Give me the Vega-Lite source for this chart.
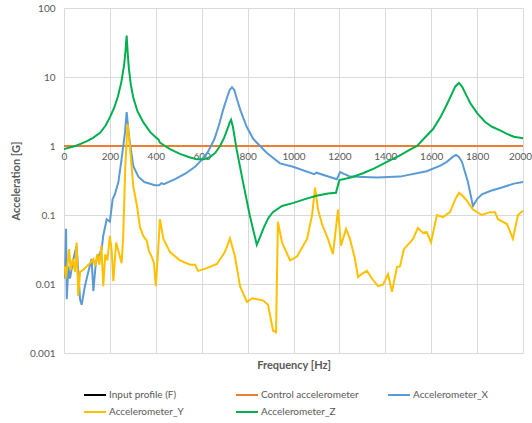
{
  "$schema": "https://vega.github.io/schema/vega-lite/v6.json",
  "width": 459,
  "height": 345,
  "autosize": "none",
  "padding": {"left": 64, "top": 8, "right": 9, "bottom": 70},
  "background": "white",
  "config": {
    "font": "Lato",
    "view": {"stroke": null},
    "axis": {"labelColor": "#595959", "titleColor": "#595959", "gridColor": "#d9d9d9", "gridWidth": 1, "domain": false, "ticks": false, "labelFontSize": 10}
  },
  "datasets": {
    "curves": [
      {"Series": "Input profile (F)", "Frequency": 0, "Acceleration": 1},
      {"Series": "Input profile (F)", "Frequency": 2000, "Acceleration": 1},
      {"Series": "Control accelerometer", "Frequency": 0, "Acceleration": 1},
      {"Series": "Control accelerometer", "Frequency": 2000, "Acceleration": 1},

      {"Series": "Accelerometer_X", "Frequency": 4, "Acceleration": 0.012},
      {"Series": "Accelerometer_X", "Frequency": 9, "Acceleration": 0.063},
      {"Series": "Accelerometer_X", "Frequency": 12, "Acceleration": 0.006},
      {"Series": "Accelerometer_X", "Frequency": 19, "Acceleration": 0.018},
      {"Series": "Accelerometer_X", "Frequency": 26, "Acceleration": 0.012},
      {"Series": "Accelerometer_X", "Frequency": 41, "Acceleration": 0.023},
      {"Series": "Accelerometer_X", "Frequency": 55, "Acceleration": 0.036},
      {"Series": "Accelerometer_X", "Frequency": 62, "Acceleration": 0.015},
      {"Series": "Accelerometer_X", "Frequency": 70, "Acceleration": 0.006},
      {"Series": "Accelerometer_X", "Frequency": 77, "Acceleration": 0.005},
      {"Series": "Accelerometer_X", "Frequency": 91, "Acceleration": 0.0093},
      {"Series": "Accelerometer_X", "Frequency": 106, "Acceleration": 0.015},
      {"Series": "Accelerometer_X", "Frequency": 120, "Acceleration": 0.023},
      {"Series": "Accelerometer_X", "Frequency": 128, "Acceleration": 0.0079},
      {"Series": "Accelerometer_X", "Frequency": 139, "Acceleration": 0.021},
      {"Series": "Accelerometer_X", "Frequency": 150, "Acceleration": 0.025},
      {"Series": "Accelerometer_X", "Frequency": 164, "Acceleration": 0.032},
      {"Series": "Accelerometer_X", "Frequency": 171, "Acceleration": 0.05},
      {"Series": "Accelerometer_X", "Frequency": 186, "Acceleration": 0.087},
      {"Series": "Accelerometer_X", "Frequency": 200, "Acceleration": 0.08},
      {"Series": "Accelerometer_X", "Frequency": 212, "Acceleration": 0.17},
      {"Series": "Accelerometer_X", "Frequency": 222, "Acceleration": 0.2},
      {"Series": "Accelerometer_X", "Frequency": 237, "Acceleration": 0.3},
      {"Series": "Accelerometer_X", "Frequency": 251, "Acceleration": 0.65},
      {"Series": "Accelerometer_X", "Frequency": 266, "Acceleration": 1.6},
      {"Series": "Accelerometer_X", "Frequency": 273, "Acceleration": 3.1},
      {"Series": "Accelerometer_X", "Frequency": 285, "Acceleration": 1.26},
      {"Series": "Accelerometer_X", "Frequency": 302, "Acceleration": 0.51},
      {"Series": "Accelerometer_X", "Frequency": 324, "Acceleration": 0.36},
      {"Series": "Accelerometer_X", "Frequency": 350, "Acceleration": 0.3},
      {"Series": "Accelerometer_X", "Frequency": 396, "Acceleration": 0.27},
      {"Series": "Accelerometer_X", "Frequency": 415, "Acceleration": 0.27},
      {"Series": "Accelerometer_X", "Frequency": 425, "Acceleration": 0.29},
      {"Series": "Accelerometer_X", "Frequency": 435, "Acceleration": 0.28},
      {"Series": "Accelerometer_X", "Frequency": 484, "Acceleration": 0.33},
      {"Series": "Accelerometer_X", "Frequency": 530, "Acceleration": 0.4},
      {"Series": "Accelerometer_X", "Frequency": 571, "Acceleration": 0.5},
      {"Series": "Accelerometer_X", "Frequency": 600, "Acceleration": 0.63},
      {"Series": "Accelerometer_X", "Frequency": 627, "Acceleration": 0.82},
      {"Series": "Accelerometer_X", "Frequency": 655, "Acceleration": 1.25},
      {"Series": "Accelerometer_X", "Frequency": 675, "Acceleration": 2.0},
      {"Series": "Accelerometer_X", "Frequency": 694, "Acceleration": 3.4},
      {"Series": "Accelerometer_X", "Frequency": 710, "Acceleration": 5.0},
      {"Series": "Accelerometer_X", "Frequency": 722, "Acceleration": 6.5},
      {"Series": "Accelerometer_X", "Frequency": 732, "Acceleration": 7.1},
      {"Series": "Accelerometer_X", "Frequency": 742, "Acceleration": 6.5},
      {"Series": "Accelerometer_X", "Frequency": 755, "Acceleration": 4.6},
      {"Series": "Accelerometer_X", "Frequency": 770, "Acceleration": 3.2},
      {"Series": "Accelerometer_X", "Frequency": 796, "Acceleration": 1.9},
      {"Series": "Accelerometer_X", "Frequency": 825, "Acceleration": 1.26},
      {"Series": "Accelerometer_X", "Frequency": 883, "Acceleration": 0.8},
      {"Series": "Accelerometer_X", "Frequency": 941, "Acceleration": 0.56},
      {"Series": "Accelerometer_X", "Frequency": 998, "Acceleration": 0.5},
      {"Series": "Accelerometer_X", "Frequency": 1090, "Acceleration": 0.39},
      {"Series": "Accelerometer_X", "Frequency": 1100, "Acceleration": 0.41},
      {"Series": "Accelerometer_X", "Frequency": 1189, "Acceleration": 0.33},
      {"Series": "Accelerometer_X", "Frequency": 1203, "Acceleration": 0.42},
      {"Series": "Accelerometer_X", "Frequency": 1246, "Acceleration": 0.36},
      {"Series": "Accelerometer_X", "Frequency": 1364, "Acceleration": 0.35},
      {"Series": "Accelerometer_X", "Frequency": 1464, "Acceleration": 0.36},
      {"Series": "Accelerometer_X", "Frequency": 1580, "Acceleration": 0.43},
      {"Series": "Accelerometer_X", "Frequency": 1640, "Acceleration": 0.52},
      {"Series": "Accelerometer_X", "Frequency": 1668, "Acceleration": 0.59},
      {"Series": "Accelerometer_X", "Frequency": 1695, "Acceleration": 0.7},
      {"Series": "Accelerometer_X", "Frequency": 1708, "Acceleration": 0.74},
      {"Series": "Accelerometer_X", "Frequency": 1720, "Acceleration": 0.7},
      {"Series": "Accelerometer_X", "Frequency": 1734, "Acceleration": 0.59},
      {"Series": "Accelerometer_X", "Frequency": 1760, "Acceleration": 0.3},
      {"Series": "Accelerometer_X", "Frequency": 1782, "Acceleration": 0.135},
      {"Series": "Accelerometer_X", "Frequency": 1800, "Acceleration": 0.17},
      {"Series": "Accelerometer_X", "Frequency": 1821, "Acceleration": 0.2},
      {"Series": "Accelerometer_X", "Frequency": 1860, "Acceleration": 0.225},
      {"Series": "Accelerometer_X", "Frequency": 1908, "Acceleration": 0.25},
      {"Series": "Accelerometer_X", "Frequency": 1960, "Acceleration": 0.285},
      {"Series": "Accelerometer_X", "Frequency": 2000, "Acceleration": 0.3},

      {"Series": "Accelerometer_Y", "Frequency": 4, "Acceleration": 0.018},
      {"Series": "Accelerometer_Y", "Frequency": 8, "Acceleration": 0.012},
      {"Series": "Accelerometer_Y", "Frequency": 12, "Acceleration": 0.015},
      {"Series": "Accelerometer_Y", "Frequency": 22, "Acceleration": 0.032},
      {"Series": "Accelerometer_Y", "Frequency": 29, "Acceleration": 0.016},
      {"Series": "Accelerometer_Y", "Frequency": 38, "Acceleration": 0.023},
      {"Series": "Accelerometer_Y", "Frequency": 48, "Acceleration": 0.015},
      {"Series": "Accelerometer_Y", "Frequency": 55, "Acceleration": 0.04},
      {"Series": "Accelerometer_Y", "Frequency": 62, "Acceleration": 0.0067},
      {"Series": "Accelerometer_Y", "Frequency": 70, "Acceleration": 0.015},
      {"Series": "Accelerometer_Y", "Frequency": 84, "Acceleration": 0.016},
      {"Series": "Accelerometer_Y", "Frequency": 99, "Acceleration": 0.018},
      {"Series": "Accelerometer_Y", "Frequency": 113, "Acceleration": 0.02},
      {"Series": "Accelerometer_Y", "Frequency": 128, "Acceleration": 0.023},
      {"Series": "Accelerometer_Y", "Frequency": 135, "Acceleration": 0.018},
      {"Series": "Accelerometer_Y", "Frequency": 145, "Acceleration": 0.027},
      {"Series": "Accelerometer_Y", "Frequency": 154, "Acceleration": 0.019},
      {"Series": "Accelerometer_Y", "Frequency": 163, "Acceleration": 0.036},
      {"Series": "Accelerometer_Y", "Frequency": 171, "Acceleration": 0.0093},
      {"Series": "Accelerometer_Y", "Frequency": 180, "Acceleration": 0.027},
      {"Series": "Accelerometer_Y", "Frequency": 189, "Acceleration": 0.022},
      {"Series": "Accelerometer_Y", "Frequency": 200, "Acceleration": 0.05},
      {"Series": "Accelerometer_Y", "Frequency": 208, "Acceleration": 0.03},
      {"Series": "Accelerometer_Y", "Frequency": 215, "Acceleration": 0.011},
      {"Series": "Accelerometer_Y", "Frequency": 227, "Acceleration": 0.04},
      {"Series": "Accelerometer_Y", "Frequency": 237, "Acceleration": 0.03},
      {"Series": "Accelerometer_Y", "Frequency": 251, "Acceleration": 0.02},
      {"Series": "Accelerometer_Y", "Frequency": 258, "Acceleration": 0.05},
      {"Series": "Accelerometer_Y", "Frequency": 267, "Acceleration": 0.51},
      {"Series": "Accelerometer_Y", "Frequency": 277, "Acceleration": 2.1},
      {"Series": "Accelerometer_Y", "Frequency": 287, "Acceleration": 1.0},
      {"Series": "Accelerometer_Y", "Frequency": 302, "Acceleration": 0.26},
      {"Series": "Accelerometer_Y", "Frequency": 318, "Acceleration": 0.135},
      {"Series": "Accelerometer_Y", "Frequency": 331, "Acceleration": 0.067},
      {"Series": "Accelerometer_Y", "Frequency": 345, "Acceleration": 0.05},
      {"Series": "Accelerometer_Y", "Frequency": 361, "Acceleration": 0.042},
      {"Series": "Accelerometer_Y", "Frequency": 370, "Acceleration": 0.03},
      {"Series": "Accelerometer_Y", "Frequency": 382, "Acceleration": 0.025},
      {"Series": "Accelerometer_Y", "Frequency": 392, "Acceleration": 0.02},
      {"Series": "Accelerometer_Y", "Frequency": 400, "Acceleration": 0.0093},
      {"Series": "Accelerometer_Y", "Frequency": 410, "Acceleration": 0.03},
      {"Series": "Accelerometer_Y", "Frequency": 418, "Acceleration": 0.087},
      {"Series": "Accelerometer_Y", "Frequency": 433, "Acceleration": 0.045},
      {"Series": "Accelerometer_Y", "Frequency": 462, "Acceleration": 0.029},
      {"Series": "Accelerometer_Y", "Frequency": 505, "Acceleration": 0.022},
      {"Series": "Accelerometer_Y", "Frequency": 549, "Acceleration": 0.019},
      {"Series": "Accelerometer_Y", "Frequency": 571, "Acceleration": 0.019},
      {"Series": "Accelerometer_Y", "Frequency": 584, "Acceleration": 0.0155},
      {"Series": "Accelerometer_Y", "Frequency": 623, "Acceleration": 0.017},
      {"Series": "Accelerometer_Y", "Frequency": 666, "Acceleration": 0.0195},
      {"Series": "Accelerometer_Y", "Frequency": 701, "Acceleration": 0.029},
      {"Series": "Accelerometer_Y", "Frequency": 723, "Acceleration": 0.046},
      {"Series": "Accelerometer_Y", "Frequency": 745, "Acceleration": 0.025},
      {"Series": "Accelerometer_Y", "Frequency": 767, "Acceleration": 0.0093},
      {"Series": "Accelerometer_Y", "Frequency": 797, "Acceleration": 0.0055},
      {"Series": "Accelerometer_Y", "Frequency": 820, "Acceleration": 0.0062},
      {"Series": "Accelerometer_Y", "Frequency": 841, "Acceleration": 0.006},
      {"Series": "Accelerometer_Y", "Frequency": 867, "Acceleration": 0.0058},
      {"Series": "Accelerometer_Y", "Frequency": 889, "Acceleration": 0.005},
      {"Series": "Accelerometer_Y", "Frequency": 911, "Acceleration": 0.0021},
      {"Series": "Accelerometer_Y", "Frequency": 924, "Acceleration": 0.002},
      {"Series": "Accelerometer_Y", "Frequency": 932, "Acceleration": 0.08},
      {"Series": "Accelerometer_Y", "Frequency": 950, "Acceleration": 0.04},
      {"Series": "Accelerometer_Y", "Frequency": 985, "Acceleration": 0.022},
      {"Series": "Accelerometer_Y", "Frequency": 1015, "Acceleration": 0.025},
      {"Series": "Accelerometer_Y", "Frequency": 1059, "Acceleration": 0.045},
      {"Series": "Accelerometer_Y", "Frequency": 1081, "Acceleration": 0.1},
      {"Series": "Accelerometer_Y", "Frequency": 1094, "Acceleration": 0.25},
      {"Series": "Accelerometer_Y", "Frequency": 1107, "Acceleration": 0.12},
      {"Series": "Accelerometer_Y", "Frequency": 1124, "Acceleration": 0.074},
      {"Series": "Accelerometer_Y", "Frequency": 1150, "Acceleration": 0.045},
      {"Series": "Accelerometer_Y", "Frequency": 1172, "Acceleration": 0.027},
      {"Series": "Accelerometer_Y", "Frequency": 1194, "Acceleration": 0.12},
      {"Series": "Accelerometer_Y", "Frequency": 1207, "Acceleration": 0.036},
      {"Series": "Accelerometer_Y", "Frequency": 1229, "Acceleration": 0.063},
      {"Series": "Accelerometer_Y", "Frequency": 1246, "Acceleration": 0.045},
      {"Series": "Accelerometer_Y", "Frequency": 1268, "Acceleration": 0.023},
      {"Series": "Accelerometer_Y", "Frequency": 1281, "Acceleration": 0.0126},
      {"Series": "Accelerometer_Y", "Frequency": 1298, "Acceleration": 0.014},
      {"Series": "Accelerometer_Y", "Frequency": 1320, "Acceleration": 0.0155},
      {"Series": "Accelerometer_Y", "Frequency": 1342, "Acceleration": 0.012},
      {"Series": "Accelerometer_Y", "Frequency": 1368, "Acceleration": 0.0093},
      {"Series": "Accelerometer_Y", "Frequency": 1390, "Acceleration": 0.0098},
      {"Series": "Accelerometer_Y", "Frequency": 1412, "Acceleration": 0.0139},
      {"Series": "Accelerometer_Y", "Frequency": 1429, "Acceleration": 0.0077},
      {"Series": "Accelerometer_Y", "Frequency": 1451, "Acceleration": 0.0177},
      {"Series": "Accelerometer_Y", "Frequency": 1464, "Acceleration": 0.018},
      {"Series": "Accelerometer_Y", "Frequency": 1481, "Acceleration": 0.032},
      {"Series": "Accelerometer_Y", "Frequency": 1508, "Acceleration": 0.04},
      {"Series": "Accelerometer_Y", "Frequency": 1521, "Acceleration": 0.045},
      {"Series": "Accelerometer_Y", "Frequency": 1542, "Acceleration": 0.065},
      {"Series": "Accelerometer_Y", "Frequency": 1564, "Acceleration": 0.055},
      {"Series": "Accelerometer_Y", "Frequency": 1580, "Acceleration": 0.057},
      {"Series": "Accelerometer_Y", "Frequency": 1599, "Acceleration": 0.04},
      {"Series": "Accelerometer_Y", "Frequency": 1625, "Acceleration": 0.1},
      {"Series": "Accelerometer_Y", "Frequency": 1651, "Acceleration": 0.093},
      {"Series": "Accelerometer_Y", "Frequency": 1682, "Acceleration": 0.11},
      {"Series": "Accelerometer_Y", "Frequency": 1705, "Acceleration": 0.17},
      {"Series": "Accelerometer_Y", "Frequency": 1721, "Acceleration": 0.21},
      {"Series": "Accelerometer_Y", "Frequency": 1737, "Acceleration": 0.19},
      {"Series": "Accelerometer_Y", "Frequency": 1756, "Acceleration": 0.16},
      {"Series": "Accelerometer_Y", "Frequency": 1782, "Acceleration": 0.12},
      {"Series": "Accelerometer_Y", "Frequency": 1821, "Acceleration": 0.1},
      {"Series": "Accelerometer_Y", "Frequency": 1856, "Acceleration": 0.11},
      {"Series": "Accelerometer_Y", "Frequency": 1878, "Acceleration": 0.11},
      {"Series": "Accelerometer_Y", "Frequency": 1891, "Acceleration": 0.087},
      {"Series": "Accelerometer_Y", "Frequency": 1930, "Acceleration": 0.074},
      {"Series": "Accelerometer_Y", "Frequency": 1956, "Acceleration": 0.045},
      {"Series": "Accelerometer_Y", "Frequency": 1978, "Acceleration": 0.1},
      {"Series": "Accelerometer_Y", "Frequency": 2000, "Acceleration": 0.115},

      {"Series": "Accelerometer_Z", "Frequency": 0, "Acceleration": 0.9},
      {"Series": "Accelerometer_Z", "Frequency": 25, "Acceleration": 0.95},
      {"Series": "Accelerometer_Z", "Frequency": 50, "Acceleration": 1.0},
      {"Series": "Accelerometer_Z", "Frequency": 75, "Acceleration": 1.08},
      {"Series": "Accelerometer_Z", "Frequency": 100, "Acceleration": 1.18},
      {"Series": "Accelerometer_Z", "Frequency": 125, "Acceleration": 1.3},
      {"Series": "Accelerometer_Z", "Frequency": 157, "Acceleration": 1.55},
      {"Series": "Accelerometer_Z", "Frequency": 180, "Acceleration": 1.95},
      {"Series": "Accelerometer_Z", "Frequency": 200, "Acceleration": 2.6},
      {"Series": "Accelerometer_Z", "Frequency": 220, "Acceleration": 3.7},
      {"Series": "Accelerometer_Z", "Frequency": 235, "Acceleration": 5.2},
      {"Series": "Accelerometer_Z", "Frequency": 250, "Acceleration": 8.5},
      {"Series": "Accelerometer_Z", "Frequency": 262, "Acceleration": 15},
      {"Series": "Accelerometer_Z", "Frequency": 268, "Acceleration": 24},
      {"Series": "Accelerometer_Z", "Frequency": 271, "Acceleration": 33},
      {"Series": "Accelerometer_Z", "Frequency": 273, "Acceleration": 40},
      {"Series": "Accelerometer_Z", "Frequency": 275, "Acceleration": 31},
      {"Series": "Accelerometer_Z", "Frequency": 278, "Acceleration": 21},
      {"Series": "Accelerometer_Z", "Frequency": 283, "Acceleration": 13},
      {"Series": "Accelerometer_Z", "Frequency": 291, "Acceleration": 7.8},
      {"Series": "Accelerometer_Z", "Frequency": 302, "Acceleration": 5.0},
      {"Series": "Accelerometer_Z", "Frequency": 320, "Acceleration": 3.2},
      {"Series": "Accelerometer_Z", "Frequency": 346, "Acceleration": 2.2},
      {"Series": "Accelerometer_Z", "Frequency": 375, "Acceleration": 1.6},
      {"Series": "Accelerometer_Z", "Frequency": 404, "Acceleration": 1.3},
      {"Series": "Accelerometer_Z", "Frequency": 412, "Acceleration": 1.24},
      {"Series": "Accelerometer_Z", "Frequency": 418, "Acceleration": 1.12},
      {"Series": "Accelerometer_Z", "Frequency": 440, "Acceleration": 1.0},
      {"Series": "Accelerometer_Z", "Frequency": 462, "Acceleration": 0.9},
      {"Series": "Accelerometer_Z", "Frequency": 505, "Acceleration": 0.77},
      {"Series": "Accelerometer_Z", "Frequency": 550, "Acceleration": 0.68},
      {"Series": "Accelerometer_Z", "Frequency": 580, "Acceleration": 0.64},
      {"Series": "Accelerometer_Z", "Frequency": 610, "Acceleration": 0.64},
      {"Series": "Accelerometer_Z", "Frequency": 636, "Acceleration": 0.69},
      {"Series": "Accelerometer_Z", "Frequency": 660, "Acceleration": 0.8},
      {"Series": "Accelerometer_Z", "Frequency": 680, "Acceleration": 1.0},
      {"Series": "Accelerometer_Z", "Frequency": 697, "Acceleration": 1.3},
      {"Series": "Accelerometer_Z", "Frequency": 712, "Acceleration": 1.75},
      {"Series": "Accelerometer_Z", "Frequency": 722, "Acceleration": 2.2},
      {"Series": "Accelerometer_Z", "Frequency": 728, "Acceleration": 2.4},
      {"Series": "Accelerometer_Z", "Frequency": 736, "Acceleration": 1.9},
      {"Series": "Accelerometer_Z", "Frequency": 752, "Acceleration": 0.9},
      {"Series": "Accelerometer_Z", "Frequency": 780, "Acceleration": 0.3},
      {"Series": "Accelerometer_Z", "Frequency": 810, "Acceleration": 0.097},
      {"Series": "Accelerometer_Z", "Frequency": 840, "Acceleration": 0.037},
      {"Series": "Accelerometer_Z", "Frequency": 852, "Acceleration": 0.046},
      {"Series": "Accelerometer_Z", "Frequency": 870, "Acceleration": 0.065},
      {"Series": "Accelerometer_Z", "Frequency": 890, "Acceleration": 0.09},
      {"Series": "Accelerometer_Z", "Frequency": 910, "Acceleration": 0.11},
      {"Series": "Accelerometer_Z", "Frequency": 950, "Acceleration": 0.135},
      {"Series": "Accelerometer_Z", "Frequency": 1000, "Acceleration": 0.15},
      {"Series": "Accelerometer_Z", "Frequency": 1050, "Acceleration": 0.17},
      {"Series": "Accelerometer_Z", "Frequency": 1100, "Acceleration": 0.19},
      {"Series": "Accelerometer_Z", "Frequency": 1150, "Acceleration": 0.205},
      {"Series": "Accelerometer_Z", "Frequency": 1185, "Acceleration": 0.21},
      {"Series": "Accelerometer_Z", "Frequency": 1200, "Acceleration": 0.32},
      {"Series": "Accelerometer_Z", "Frequency": 1250, "Acceleration": 0.35},
      {"Series": "Accelerometer_Z", "Frequency": 1300, "Acceleration": 0.4},
      {"Series": "Accelerometer_Z", "Frequency": 1350, "Acceleration": 0.47},
      {"Series": "Accelerometer_Z", "Frequency": 1407, "Acceleration": 0.59},
      {"Series": "Accelerometer_Z", "Frequency": 1460, "Acceleration": 0.72},
      {"Series": "Accelerometer_Z", "Frequency": 1500, "Acceleration": 0.86},
      {"Series": "Accelerometer_Z", "Frequency": 1538, "Acceleration": 1.0},
      {"Series": "Accelerometer_Z", "Frequency": 1575, "Acceleration": 1.35},
      {"Series": "Accelerometer_Z", "Frequency": 1608, "Acceleration": 1.76},
      {"Series": "Accelerometer_Z", "Frequency": 1640, "Acceleration": 2.6},
      {"Series": "Accelerometer_Z", "Frequency": 1665, "Acceleration": 3.8},
      {"Series": "Accelerometer_Z", "Frequency": 1688, "Acceleration": 5.5},
      {"Series": "Accelerometer_Z", "Frequency": 1705, "Acceleration": 7.3},
      {"Series": "Accelerometer_Z", "Frequency": 1721, "Acceleration": 8.2},
      {"Series": "Accelerometer_Z", "Frequency": 1735, "Acceleration": 7.2},
      {"Series": "Accelerometer_Z", "Frequency": 1750, "Acceleration": 5.7},
      {"Series": "Accelerometer_Z", "Frequency": 1770, "Acceleration": 4.2},
      {"Series": "Accelerometer_Z", "Frequency": 1800, "Acceleration": 3.0},
      {"Series": "Accelerometer_Z", "Frequency": 1834, "Acceleration": 2.25},
      {"Series": "Accelerometer_Z", "Frequency": 1865, "Acceleration": 1.9},
      {"Series": "Accelerometer_Z", "Frequency": 1900, "Acceleration": 1.68},
      {"Series": "Accelerometer_Z", "Frequency": 1930, "Acceleration": 1.5},
      {"Series": "Accelerometer_Z", "Frequency": 1960, "Acceleration": 1.36},
      {"Series": "Accelerometer_Z", "Frequency": 2000, "Acceleration": 1.3}
    ]
  },
  "data": {"name": "curves"},
  "mark": {"type": "line", "strokeWidth": 2},
  "encoding": {
    "x": {
      "field": "Frequency", "type": "quantitative",
      "scale": {"domain": [0, 2000], "nice": false},
      "axis": {
        "values": [0, 200, 400, 600, 800, 1000, 1200, 1400, 1600, 1800, 2000],
        "format": "d",
        "offset": -206, "grid": true, "labelPadding": 4, "labelFlush": false, "labelBound": false,
        "labelOffset": {"expr": "datum.value == 2000 ? -3 : 0"},
        "title": "Frequency [Hz]", "titleY": 218, "titleBaseline": "middle", "titleFontWeight": "bold", "titleFontSize": 11
      }
    },
    "y": {
      "field": "Acceleration", "type": "quantitative",
      "scale": {"type": "log", "domain": [0.001, 100], "nice": false},
      "axis": {
        "values": [0.001, 0.01, 0.1, 1, 10, 100], "format": "~g", "labelPadding": 9,
        "title": "Acceleration [G]", "titleFontWeight": "bold", "titleFontSize": 11, "titlePadding": 8
      }
    },
    "color": {
      "field": "Series", "type": "nominal",
      "scale": {
        "domain": ["Input profile (F)", "Control accelerometer", "Accelerometer_X", "Accelerometer_Y", "Accelerometer_Z"],
        "range": ["#000000", "#ED7D31", "#5B9BD5", "#FFC000", "#00B050"]
      },
      "legend": {
        "orient": "none", "direction": "horizontal", "legendX": 19, "legendY": 375, "columns": 3, "title": null,
        "symbolType": "stroke", "symbolSize": 484, "symbolStrokeWidth": 2, "labelOffset": 2,
        "labelFontSize": 10, "labelColor": "#595959", "gridAlign": "all", "columnPadding": 25, "rowPadding": -5
      }
    }
  }
}
